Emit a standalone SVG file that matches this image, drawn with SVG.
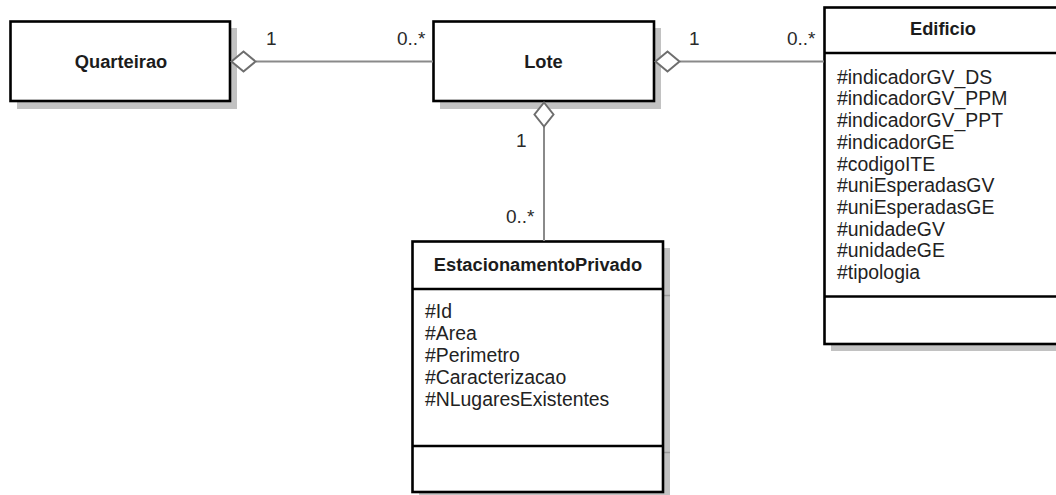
<svg xmlns="http://www.w3.org/2000/svg" width="1056" height="495" viewBox="0 0 1056 495">
<style>
.shadow{fill:#c2c2c2;stroke:none}
.shline{stroke:#9a9a9a;stroke-width:1.5}
.box{fill:#ffffff;stroke:#000000;stroke-width:2.6}
.div{stroke:#000000;stroke-width:2.6}
.title{font-family:"Liberation Sans",Arial,sans-serif;font-size:18.3px;font-weight:bold;fill:#1c1c1c;text-anchor:middle}
.attr{font-family:"Liberation Sans",Arial,sans-serif;font-size:19.4px;fill:#222222}
.mult{font-family:"Liberation Sans",Arial,sans-serif;font-size:19px;fill:#2a2a2a}
.edge{stroke:#8a8a8a;stroke-width:2;fill:none}
.dia{fill:#ffffff;stroke:#6e6e6e;stroke-width:2}
</style>
<rect width="1056" height="495" fill="#ffffff"/>
<g id="Quarteirao">
<rect class="shadow" x="17" y="28" width="220" height="81"/>
<rect class="box" x="10.5" y="21.5" width="219.5" height="79.5"/>
<text class="title" x="121" y="68">Quarteirao</text>
</g>
<g id="Lote">
<rect class="shadow" x="440" y="28" width="221" height="81"/>
<rect class="box" x="433.5" y="21.5" width="220.5" height="79.5"/>
<text class="title" x="543.5" y="68">Lote</text>
</g>
<g id="Edificio">
<rect class="shadow" x="831" y="14" width="240" height="337"/>
<rect class="box" x="824.5" y="7.5" width="240" height="336.5"/>
<line class="div" x1="824.5" y1="53" x2="1064.5" y2="53"/>
<line class="div" x1="824.5" y1="296.5" x2="1064.5" y2="296.5"/>
<text class="title" x="943" y="35">Edificio</text>
<text class="attr" x="837" y="83.7">#indicadorGV_DS</text>
<text class="attr" x="837" y="105.4">#indicadorGV_PPM</text>
<text class="attr" x="837" y="127.1">#indicadorGV_PPT</text>
<text class="attr" x="837" y="148.8">#indicadorGE</text>
<text class="attr" x="837" y="170.5">#codigoITE</text>
<text class="attr" x="837" y="192.2">#uniEsperadasGV</text>
<text class="attr" x="837" y="213.9">#uniEsperadasGE</text>
<text class="attr" x="837" y="235.6">#unidadeGV</text>
<text class="attr" x="837" y="257.3">#unidadeGE</text>
<text class="attr" x="837" y="279">#tipologia</text>
</g>
<g id="EstacionamentoPrivado">
<rect class="shadow" x="419" y="248" width="251" height="247"/>
<line class="shline" x1="664" y1="295.5" x2="670" y2="295.5"/>
<line class="shline" x1="664" y1="452.5" x2="670" y2="452.5"/>
<rect class="box" x="412.5" y="241.5" width="250.5" height="250.5"/>
<line class="div" x1="412.5" y1="289" x2="663" y2="289"/>
<line class="div" x1="412.5" y1="446" x2="663" y2="446"/>
<text class="title" x="538" y="271">EstacionamentoPrivado</text>
<text class="attr" x="425" y="318.3">#Id</text>
<text class="attr" x="425" y="340.2">#Area</text>
<text class="attr" x="425" y="362.1">#Perimetro</text>
<text class="attr" x="425" y="384">#Caracterizacao</text>
<text class="attr" x="425" y="405.9">#NLugaresExistentes</text>
</g>
<g id="connectors">
<g id="Quarteirao-Lote">
<line class="edge" x1="256" y1="61.5" x2="433" y2="61.5"/>
<polygon class="dia" points="231.5,61.5 243.5,51.5 255.5,61.5 243.5,71.5"/>
<text class="mult" x="266" y="45">1</text>
<text class="mult" x="397" y="45">0..*</text>
</g>
<g id="Lote-Edificio">
<line class="edge" x1="680" y1="61.5" x2="824" y2="61.5"/>
<polygon class="dia" points="655.5,61.5 667.5,51.5 679.5,61.5 667.5,71.5"/>
<text class="mult" x="689" y="45">1</text>
<text class="mult" x="787" y="45">0..*</text>
</g>
<g id="Lote-EstacionamentoPrivado">
<line class="edge" x1="544" y1="126" x2="544" y2="241"/>
<polygon class="dia" points="544,102.5 553.5,114.5 544,126.5 534.5,114.5"/>
<text class="mult" x="516" y="147">1</text>
<text class="mult" x="506" y="223">0..*</text>
</g>
</g>
</svg>
